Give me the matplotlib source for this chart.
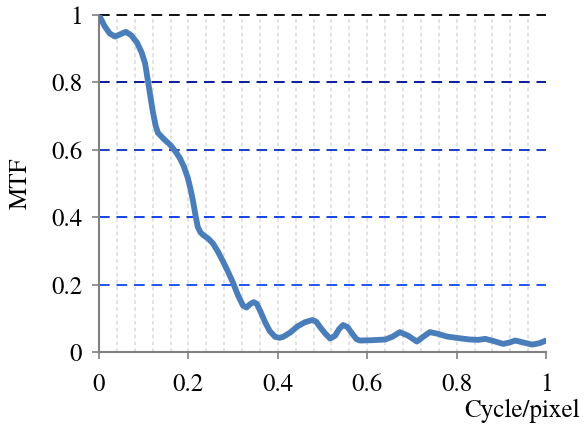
import numpy as np
import matplotlib.pyplot as plt

# MTF curve
freq = [0.0, 0.012, 0.024, 0.036, 0.048, 0.06, 0.072, 0.085, 0.095, 0.103, 0.11,
        0.116, 0.121, 0.127, 0.132, 0.145, 0.159, 0.171, 0.181, 0.19, 0.199, 0.205,
        0.21, 0.216, 0.221, 0.227, 0.233, 0.244, 0.255, 0.266, 0.277, 0.288, 0.3,
        0.311, 0.322, 0.33, 0.338, 0.346, 0.353, 0.362, 0.371, 0.382, 0.394, 0.404,
        0.412, 0.428, 0.443, 0.46, 0.477, 0.486, 0.494, 0.506, 0.517, 0.528, 0.537,
        0.546, 0.556, 0.566, 0.576, 0.584, 0.61, 0.64, 0.656, 0.673, 0.692, 0.711,
        0.725, 0.74, 0.758, 0.778, 0.805, 0.83, 0.848, 0.864, 0.884, 0.904, 0.918,
        0.931, 0.95, 0.969, 0.985, 1.0]
mtf = [1.0, 0.968, 0.945, 0.936, 0.943, 0.95, 0.94, 0.918, 0.89, 0.857, 0.8,
       0.75, 0.709, 0.67, 0.65, 0.632, 0.615, 0.595, 0.575, 0.55, 0.515, 0.482,
       0.45, 0.405, 0.371, 0.355, 0.347, 0.337, 0.322, 0.298, 0.27, 0.24, 0.205,
       0.168, 0.138, 0.132, 0.142, 0.148, 0.143, 0.118, 0.09, 0.062, 0.045, 0.042,
       0.045, 0.058, 0.075, 0.088, 0.095, 0.09, 0.075, 0.055, 0.04, 0.048, 0.068,
       0.08, 0.074, 0.055, 0.038, 0.034, 0.035, 0.037, 0.045, 0.059, 0.048, 0.031,
       0.045, 0.059, 0.054, 0.046, 0.041, 0.037, 0.036, 0.039, 0.032, 0.024, 0.028,
       0.034, 0.028, 0.022, 0.026, 0.034]

x_ticks = [0, 0.2, 0.4, 0.6, 0.8, 1]
x_tick_labels = ["0", "0.2", "0.4", "0.6", "0.8", "1"]
y_ticks = [0, 0.2, 0.4, 0.6, 0.8, 1]
y_tick_labels = ["0", "0.2", "0.4", "0.6", "0.8", "1"]

plt.rcParams['font.family'] = 'serif'
plt.rcParams['font.serif'] = ['TeX Gyre Termes', 'Liberation Serif', 'DejaVu Serif']

fig = plt.figure(figsize=(5.84, 4.26), dpi=100)
ax = fig.add_axes([0.1695, 0.1737, 0.7655, 0.7911])

# light vertical grid every 0.04
for xv in np.arange(0.04, 1.0, 0.04):
    ax.axvline(xv, color="#dedede", lw=1.3, ls=(0, (2.0, 1.8)), zorder=0)

# horizontal dashed grid, colour shading from black to blue
h_colors = {1.0: "#111111", 0.8: "#0b1a9c", 0.6: "#1a3cc8", 0.4: "#1244e6", 0.2: "#1f55f5"}
for yv, c in h_colors.items():
    ax.axhline(yv, color=c, lw=1.4, ls=(0, (5.5, 3.5)), zorder=1, clip_on=False)

ax.plot(freq, mtf, color="#4a7ebb", lw=4.2, solid_capstyle="round",
        solid_joinstyle="round", zorder=3)

ax.set_xlim(0, 1)
ax.set_ylim(0, 1)
ax.set_xticks(x_ticks)
ax.set_xticklabels(x_tick_labels)
ax.set_yticks(y_ticks)
ax.set_yticklabels(y_tick_labels)

for s in ["top", "right"]:
    ax.spines[s].set_visible(False)
for s in ["left", "bottom"]:
    ax.spines[s].set_color("#808080")
    ax.spines[s].set_linewidth(1.5)

ax.tick_params(axis="both", direction="out", length=5, width=1.2, color="#808080",
               labelsize=18, labelcolor="black")
ax.tick_params(axis="x", pad=10)
ax.tick_params(axis="y", pad=7)

ax.set_ylabel("MTF", fontsize=18, labelpad=13)
fig.text(0.993, 0.008, "Cycle/pixel", fontsize=18, ha="right", va="bottom")

fig.savefig("out.png", dpi=100)
